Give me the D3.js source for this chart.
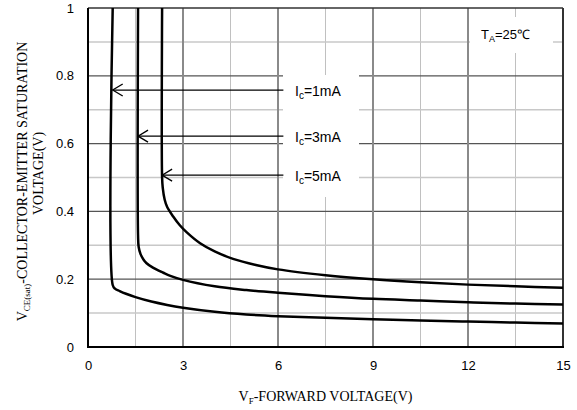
<!DOCTYPE html>
<html>
<head>
<meta charset="utf-8">
<script src="https://cdn.jsdelivr.net/npm/d3@7"></script>
<style>
body{margin:0;background:#fff}
svg{display:block}
.tick text{font-family:"Liberation Sans",Arial,sans-serif;font-size:13px;fill:#000}
</style>
</head>
<body>
<svg id="svg" width="577" height="410"></svg>
<script>
var width=+d3.select("#svg").attr("width")
var height=+d3.select("#svg").attr("height")

// curves: forward voltage (V) vs Vce(sat) (V)
var vf1=[0.78,0.78,0.85,1.0,1.2,1.5,2,2.5,3,4,5,6,7.5,9,10.5,12,13.5,15]
var vce1=[1.0,0.183,0.172,0.165,0.157,0.147,0.134,0.124,0.116,0.104,0.096,0.091,0.086,0.082,0.078,0.075,0.072,0.069]

var vf3=[1.58,1.58,1.6,1.66,1.75,1.85,2.05,2.38,2.6,3,4,5,6,7.5,9,10.5,12,13.5,15]
var vce3=[1.0,0.33,0.295,0.274,0.258,0.247,0.234,0.219,0.21,0.198,0.179,0.168,0.16,0.15,0.142,0.137,0.132,0.128,0.125]

var vf5=[2.34,2.34,2.36,2.42,2.5,2.69,2.9,3.12,3.54,4,4.58,5.3,6,7.5,9,10.5,12,13.5,15]
var vce5=[1.0,0.50,0.47,0.435,0.413,0.385,0.359,0.338,0.306,0.282,0.26,0.242,0.229,0.212,0.2,0.191,0.184,0.179,0.175]

var curveNames=["Ic=1mA","Ic=3mA","Ic=5mA"]
var arrowY=[0.758,0.622,0.507]
var arrowTipX=[0.78,1.58,2.34]
var arrowTailX=6.17

var xTicks=[0,3,6,9,12,15]
var yTicks=[0,0.2,0.4,0.6,0.8,1]

var margin={left:88,right:14,top:8,bottom:63}
var svg=d3.select("#svg")

var x=d3.scaleLinear().domain([0,15]).range([margin.left,width-margin.right])
var y=d3.scaleLinear().domain([0,1]).range([height-margin.bottom,margin.top])

//gridlines
var grid=svg.append("g")
grid.selectAll(".vminor")
    .data(d3.range(1.5,15,3))
    .enter().append("line")
        .attr("x1",d=>x(d)).attr("x2",d=>x(d))
        .attr("y1",y(0)).attr("y2",y(1))
        .style("stroke","#c0c0c0").style("stroke-width","1px")
grid.selectAll(".hminor")
    .data(d3.range(0.1,1,0.2))
    .enter().append("line")
        .attr("x1",x(0)).attr("x2",x(15))
        .attr("y1",d=>y(d)).attr("y2",d=>y(d))
        .style("stroke","#c8c8c8").style("stroke-width","1.5px")
grid.selectAll(".hmajor")
    .data(yTicks.slice(1,-1))
    .enter().append("line")
        .attr("x1",x(0)).attr("x2",x(15))
        .attr("y1",d=>y(d)).attr("y2",d=>y(d))
        .style("stroke","#555").style("stroke-width","1.2px")
grid.selectAll(".vmajor")
    .data(xTicks.slice(1,-1))
    .enter().append("line")
        .attr("x1",d=>x(d)).attr("x2",d=>x(d))
        .attr("y1",y(0)).attr("y2",y(1))
        .style("stroke","#8a8a8a").style("stroke-width","2px")

//white boxes behind the labels
svg.append("rect")
    .attr("x",283).attr("y",75).attr("width",76).attr("height",122)
    .style("fill","white")
svg.append("rect")
    .attr("x",470).attr("y",17).attr("width",83).attr("height",36)
    .style("fill","white")

//frame
svg.append("line").attr("x1",x(0)).attr("x2",x(15)).attr("y1",y(1)).attr("y2",y(1))
    .style("stroke","#333").style("stroke-width","1.5px")
svg.append("line").attr("x1",x(15)).attr("x2",x(15)).attr("y1",y(0)).attr("y2",y(1))
    .style("stroke","#333").style("stroke-width","2px")

//curves
var line=d3.line()
    .x(d=>x(d[0]))
    .y(d=>y(d[1]))
    .curve(d3.curveCatmullRom.alpha(0.5))

var series=[d3.zip(vf1,vce1),d3.zip(vf3,vce3),d3.zip(vf5,vce5)]

var clip=svg.append("clipPath").attr("id","plotclip")
clip.append("rect").attr("x",x(0)).attr("y",y(1)).attr("width",x(15)-x(0)).attr("height",y(0)-y(1))

svg.append("g").attr("clip-path","url(#plotclip)")
    .selectAll("path")
    .data(series)
    .enter().append("path")
        .attr("d",line)
        .style("fill","none")
        .style("stroke","black")
        .style("stroke-width","2.5px")

//axes
var xAxis=svg.append("g")
    .attr("transform","translate(0,"+y(0)+")")
    .call(d3.axisBottom(x).tickValues(xTicks).tickSize(0).tickPadding(14).tickFormat(d3.format("d")))
xAxis.select(".domain").remove()

var yAxis=svg.append("g")
    .attr("transform","translate("+(x(0)-14)+",0)")
    .call(d3.axisLeft(y).tickValues(yTicks).tickSize(0).tickPadding(0).tickFormat(d=>d===0||d===1?d3.format("d")(d):d3.format(".1f")(d)))
yAxis.select(".domain").remove()

svg.append("line").attr("x1",x(0)).attr("x2",x(0)).attr("y1",y(0)+1).attr("y2",y(1))
    .style("stroke","black").style("stroke-width","2px")
svg.append("line").attr("x1",x(0)-1).attr("x2",x(15)+1).attr("y1",y(0)).attr("y2",y(0))
    .style("stroke","black").style("stroke-width","2px")

//arrows and labels
var ann=svg.append("g").selectAll("g")
    .data(curveNames)
    .enter().append("g")

ann.append("line")
    .attr("x1",(d,i)=>x(arrowTipX[i])).attr("x2",x(arrowTailX))
    .attr("y1",(d,i)=>y(arrowY[i])).attr("y2",(d,i)=>y(arrowY[i]))
    .style("stroke","black").style("stroke-width","1.3px")
ann.append("path")
    .attr("d",(d,i)=>{
        var tx=x(arrowTipX[i]),ty=y(arrowY[i])
        return "M"+(tx+10)+","+(ty-6)+"L"+tx+","+ty+"L"+(tx+10)+","+(ty+6)
    })
    .style("fill","none").style("stroke","black").style("stroke-width","1.3px")

var lab=ann.append("text")
    .attr("x",295)
    .attr("y",(d,i)=>y(arrowY[i])+6)
    .style("font-family","'Liberation Sans',Arial,sans-serif")
    .style("font-size","14px")
lab.append("tspan").text("I")
lab.append("tspan").text("c").attr("dy","3").style("font-size","10px")
lab.append("tspan").text(d=>"="+d.split("=")[1]).attr("dy","-3")

var ta=svg.append("text")
    .attr("x",481).attr("y",39)
    .style("font-family","'Liberation Sans',Arial,sans-serif")
    .style("font-size","13px")
ta.append("tspan").text("T")
ta.append("tspan").text("A").attr("dy","3").style("font-size","9px")
ta.append("tspan").text("=25℃").attr("dy","-3")

//axis titles
var serif="'Liberation Serif','Times New Roman',serif"
var xt=svg.append("text")
    .attr("x",(x(0)+x(15))/2).attr("y",401)
    .attr("text-anchor","middle")
    .style("font-family",serif).style("font-size","14px")
xt.append("tspan").text("V")
xt.append("tspan").text("F").attr("dy","3").style("font-size","9px")
xt.append("tspan").text("-FORWARD VOLTAGE(V)").attr("dy","-3")

var cy=(y(0)+y(1))/2
var yt=svg.append("text")
    .attr("transform","translate(27,"+(cy+4)+") rotate(-90)")
    .attr("text-anchor","middle")
    .style("font-family",serif).style("font-size","14px")
yt.append("tspan").text("V")
yt.append("tspan").text("CE(sat)").attr("dy","3").style("font-size","9px")
yt.append("tspan").text("-COLLECTOR-EMITTER SATURATION").attr("dy","-3")

svg.append("text")
    .attr("transform","translate(43,"+(cy-4)+") rotate(-90)")
    .attr("text-anchor","middle")
    .style("font-family",serif).style("font-size","14px")
    .text("VOLTAGE(V)")
</script>
</body>
</html>
